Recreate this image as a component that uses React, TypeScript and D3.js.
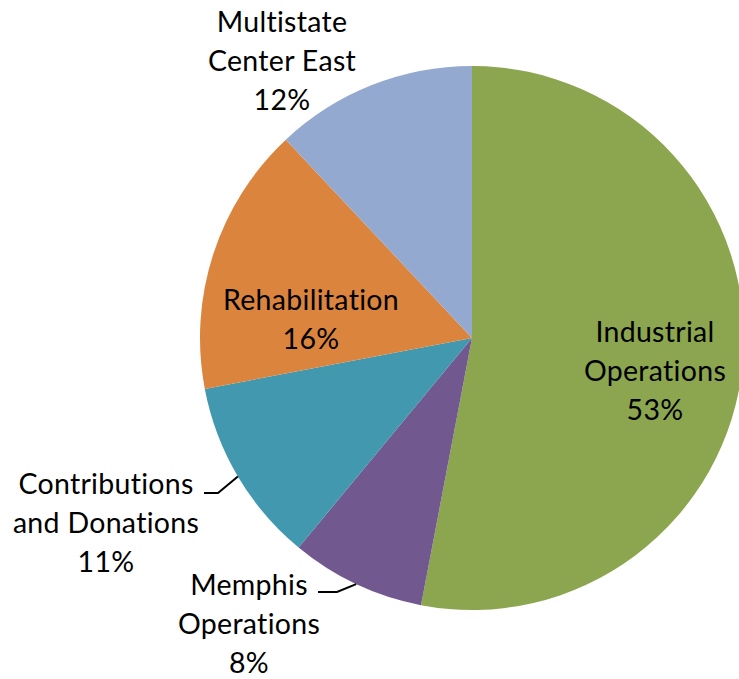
import React from "react";
import * as d3 from "d3";

const categories = [
  "Industrial Operations",
  "Memphis Operations",
  "Contributions and Donations",
  "Rehabilitation",
  "Multistate Center East",
];
const values = [53, 8, 11, 16, 12];
const labelLines = [
  ["Industrial", "Operations"],
  ["Memphis", "Operations"],
  ["Contributions", "and Donations"],
  ["Rehabilitation"],
  ["Multistate", "Center East"],
];
const colors = ["#8BA64F", "#71588F", "#4198AF", "#DB843D", "#93A9CF"];

// label layout (offsets from pie center, first baseline)
const labelPos: [number, number][] = [
  [183, 4],
  [-223, 257],
  [-366, 156],
  [-161, -28],
  [-190, -306],
];
// leader lines: elbow & end offsets relative to label anchor
const leaders: ([number, number][] | null)[] = [
  null,
  [[88, -3], [69, -3]],
  [[112, -1], [98, -1]],
  null,
  null,
];

const W = 739;
const H = 679;
const cx = 472;
const cy = 338;
const R = 272;
const lineH = 39;

export default function App() {
  const pie = d3.pie<number>().sort(null).value((d) => d)(values);
  const arc = d3.arc<d3.PieArcDatum<number>>().innerRadius(0).outerRadius(R);
  const total = d3.sum(values);
  return (
    <svg
      width={W}
      height={H}
      style={{ position: "absolute", left: 0, top: 0, background: "#fff", fontVariantLigatures: "none" }}
      fontFamily="Lato, 'Open Sans', sans-serif"
    >
      <g transform={`translate(${cx},${cy})`}>
        {pie.map((p, i) => (
          <path key={categories[i]} d={arc(p) || ""} fill={colors[i]} />
        ))}
        {pie.map((p, i) => {
          const l = leaders[i];
          if (!l) return null;
          const a = (p.startAngle + p.endAngle) / 2;
          const sx = R * Math.sin(a);
          const sy = -R * Math.cos(a);
          const [lx, ly] = labelPos[i];
          const pts = [[sx, sy], [lx + l[0][0], ly + l[0][1]], [lx + l[1][0], ly + l[1][1]]];
          return (
            <path
              key={"l" + i}
              d={d3.line()(pts as [number, number][]) || ""}
              fill="none"
              stroke="#000"
              strokeWidth={2}
            />
          );
        })}
        {pie.map((p, i) => {
          const [lx, ly] = labelPos[i];
          const lines = [...labelLines[i], `${Math.round((values[i] / total) * 100)}%`];
          return (
            <text key={"t" + i} x={lx} y={ly} textAnchor="middle" fontSize={28.5} letterSpacing={0.3} fill="#000">
              {lines.map((s, j) => (
                <tspan key={j} x={lx} y={ly + j * lineH}>
                  {s}
                </tspan>
              ))}
            </text>
          );
        })}
      </g>
    </svg>
  );
}
